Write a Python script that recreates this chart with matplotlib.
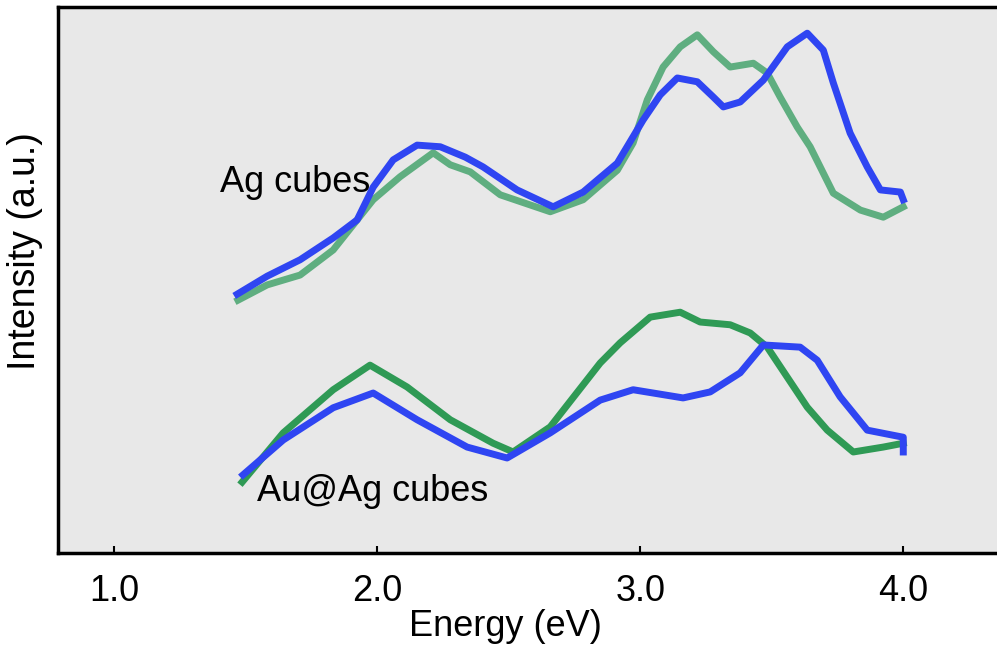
import matplotlib.pyplot as plt

plt.rcParams['font.family'] = ['Liberation Sans', 'DejaVu Sans']

# Ag cubes (upper pair)
ag_blue_x = [1.468, 1.582, 1.707, 1.833, 1.924, 1.985, 2.061, 2.152, 2.240, 2.335,
             2.403, 2.532, 2.669, 2.783, 2.913, 3.011, 3.076, 3.141, 3.217, 3.278,
             3.316, 3.380, 3.468, 3.559, 3.635, 3.696, 3.734, 3.798, 3.863, 3.913,
             3.989, 4.0]
ag_blue_y = [47.4, 50.7, 53.7, 57.7, 61.0, 67.0, 72.0, 74.7, 74.4, 72.5,
             70.7, 66.5, 63.4, 66.1, 71.4, 79.3, 83.9, 87.0, 86.3, 83.5,
             81.7, 82.6, 86.6, 92.7, 95.2, 92.1, 86.1, 76.9, 70.7, 66.5,
             66.1, 64.7]

ag_green_x = [1.471, 1.582, 1.707, 1.833, 1.985, 2.087, 2.213, 2.278, 2.354, 2.468,
              2.658, 2.783, 2.913, 2.973, 3.027, 3.087, 3.152, 3.217, 3.278, 3.342,
              3.430, 3.483, 3.532, 3.597, 3.646, 3.734, 3.837, 3.924, 4.0]
ag_green_y = [46.3, 49.1, 50.9, 55.5, 64.7, 68.9, 73.3, 71.1, 69.8, 65.6,
              62.5, 64.7, 70.1, 75.1, 83.0, 89.0, 92.7, 94.9, 91.8, 89.0,
              89.7, 87.9, 83.5, 78.0, 74.4, 65.9, 62.8, 61.5, 63.4]

# Au@Ag cubes (lower pair)
auag_blue_x = [1.490, 1.643, 1.833, 1.985, 2.152, 2.342, 2.494, 2.658, 2.848, 2.973,
               3.163, 3.266, 3.380, 3.468, 3.608, 3.673, 3.760, 3.863, 4.0, 4.0]
auag_blue_y = [14.3, 20.7, 26.6, 29.3, 24.4, 19.4, 17.4, 22.0, 28.0, 29.9,
               28.4, 29.5, 33.0, 38.1, 37.7, 35.3, 28.6, 22.5, 21.2, 18.5]

auag_green_x = [1.487, 1.643, 1.833, 1.973, 2.114, 2.278, 2.441, 2.517, 2.658, 2.848,
                2.924, 3.038, 3.152, 3.228, 3.342, 3.418, 3.483, 3.559, 3.635, 3.711,
                3.810, 3.924, 4.0]
auag_green_y = [13.0, 22.0, 29.9, 34.4, 30.4, 24.4, 20.1, 18.5, 23.1, 34.8,
                38.5, 43.2, 44.1, 42.3, 41.8, 40.3, 37.7, 32.2, 26.7, 22.5,
                18.5, 19.4, 20.1]

BLUE = "#2f45f2"
GREEN_LIGHT = "#5fae80"
GREEN = "#2f9a55"

fig = plt.figure(figsize=(9.97, 6.47), dpi=100)
ax = fig.add_axes([0.0582, 0.1453, 0.942, 0.8439])
ax.set_facecolor("#e8e8e8")

ax.plot(ag_green_x, ag_green_y, color=GREEN_LIGHT, lw=5, solid_joinstyle="round")
ax.plot(ag_blue_x, ag_blue_y, color=BLUE, lw=5, solid_joinstyle="round")
ax.plot(auag_green_x, auag_green_y, color=GREEN, lw=5, solid_joinstyle="round")
ax.plot(auag_blue_x, auag_blue_y, color=BLUE, lw=5, solid_joinstyle="round")

ax.text(1.403, 67.8, "Ag cubes", fontsize=26, va="center", ha="left")
ax.text(1.544, 11.2, "Au@Ag cubes", fontsize=26, va="center", ha="left")

ax.set_xlim(0.787, 4.357)
ax.set_ylim(0, 100)
ax.set_xticks([1.0, 2.0, 3.0, 4.0])
ax.set_xticklabels(["1.0", "2.0", "3.0", "4.0"])
ax.set_yticks([])
ax.tick_params(axis="x", direction="in", length=5, width=1.5, pad=15, labelsize=26)

for s in ["left", "bottom", "top"]:
    ax.spines[s].set_linewidth(2.5)
ax.spines["right"].set_visible(False)

ax.set_xlabel("Energy (eV)", fontsize=26)
ax.xaxis.set_label_coords((505 - 58) / 939, -0.103)
ax.set_ylabel("Intensity (a.u.)", fontsize=27)
ax.yaxis.set_label_coords(-0.016, 0.553)

fig.savefig("out.png", dpi=100)
